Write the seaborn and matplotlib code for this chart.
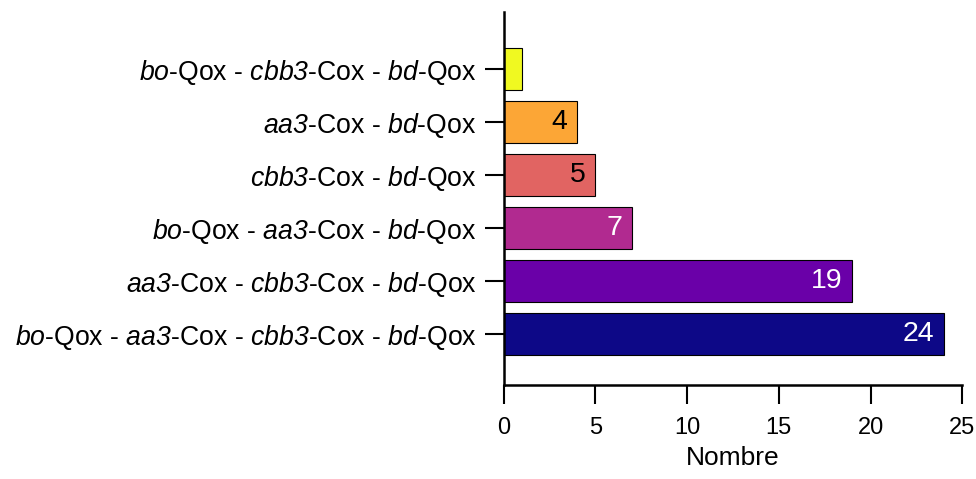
import numpy as np
import pandas as pd
import matplotlib
matplotlib.use("Agg")
import matplotlib.pyplot as plt
import seaborn as sns

# combinaisons d'oxydases (ordre du haut vers le bas)
combos = [
    r"$bo$-Qox - $cbb3$-Cox - $bd$-Qox",
    r"$aa3$-Cox - $bd$-Qox",
    r"$cbb3$-Cox - $bd$-Qox",
    r"$bo$-Qox - $aa3$-Cox - $bd$-Qox",
    r"$aa3$-Cox - $cbb3$-Cox - $bd$-Qox",
    r"$bo$-Qox - $aa3$-Cox - $cbb3$-Cox - $bd$-Qox",
]
counts = [1, 4, 5, 7, 19, 24]
label_colors = [None, "black", "black", "white", "white", "white"]

df = pd.DataFrame({"combo": combos, "n": counts})

sns.set_style("ticks")
plt.rcParams["font.family"] = ["Liberation Sans", "DejaVu Sans"]
# tout le texte en mode math est en italique (chiffres compris)
plt.rcParams["mathtext.fontset"] = "custom"
plt.rcParams["mathtext.rm"] = "Liberation Sans:italic"
plt.rcParams["mathtext.it"] = "Liberation Sans:italic"

colors = plt.cm.plasma(np.linspace(1, 0, len(combos)))

fig = plt.figure(figsize=(9.76, 4.79), dpi=100)
ax = fig.add_axes([0.516, 0.196, 0.470, 0.779])

sns.barplot(data=df, x="n", y="combo", hue="combo", palette=list(colors),
            legend=False, width=0.8, edgecolor="black", linewidth=0.8,
            saturation=1, orient="h", ax=ax)

for i, (v, c) in enumerate(zip(counts, label_colors)):
    if c is None:
        continue
    ax.text(v - 0.55, i, str(v), ha="right", va="center",
            color=c, fontsize=20.5)

ax.set_xlim(0, 25)
ax.set_ylim(5.962, -1.075)
ax.set_xticks([0, 5, 10, 15, 20, 25])
ax.set_xlabel("Nombre", fontsize=19, labelpad=5, color="black")
ax.set_ylabel("")
ax.tick_params(axis="both", length=14, width=1.5,
               direction="out", color="black", labelcolor="black")
ax.tick_params(axis="x", labelsize=17, pad=9)
ax.tick_params(axis="y", labelsize=19.2, pad=5.5)
sns.despine(ax=ax, top=True, right=True)
for s in ["left", "bottom"]:
    ax.spines[s].set_linewidth(1.8)
    ax.spines[s].set_color("black")

fig.savefig("out.png", dpi=100)
